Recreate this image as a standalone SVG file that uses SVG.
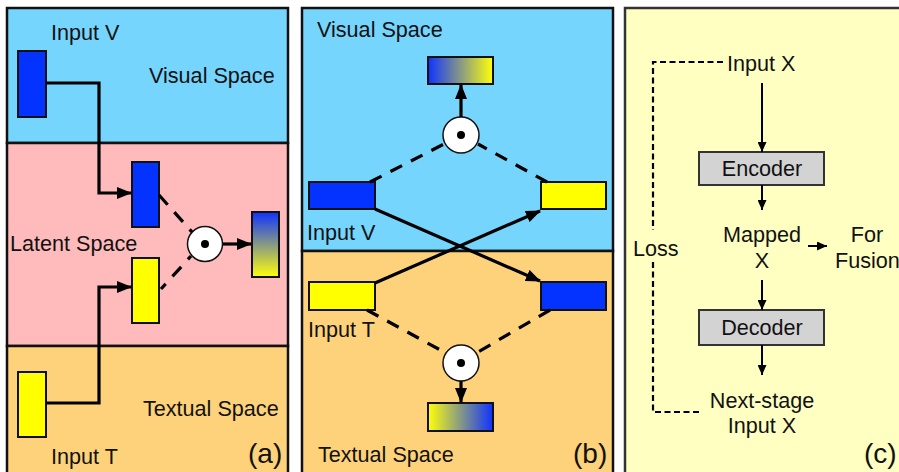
<svg xmlns="http://www.w3.org/2000/svg" width="899" height="472" viewBox="0 0 899 472">
  <style>
    text { font-family: "Liberation Sans", Arial, sans-serif; font-size: 21.6px; fill: #111; }
    .big { font-size: 28px; }
    .mid { text-anchor: middle; }
    .frame { stroke: #111; stroke-width: 2.5; }
    .blk { stroke: #111; stroke-width: 2; }
    .blue { fill: #0433FF; }
    .yel { fill: #FFFF00; }
    .conn { fill: none; stroke: #000; stroke-width: 3.2; }
    .dash { fill: none; stroke: #000; stroke-width: 3.2; stroke-dasharray: 13 10; }
    .thin { fill: none; stroke: #000; stroke-width: 2; }
    .thindash { fill: none; stroke: #000; stroke-width: 2.2; stroke-dasharray: 6 3.5; }
    .odot { fill: #fff; stroke: #111; stroke-width: 1.5; }
  </style>
  <defs>
    <marker id="ah" markerUnits="userSpaceOnUse" markerWidth="15" markerHeight="12" refX="14" refY="6" orient="auto">
      <path d="M0,0 L15,6 L0,12 z" fill="#000"/>
    </marker>
    <marker id="ahs" markerUnits="userSpaceOnUse" markerWidth="10" markerHeight="9" refX="10" refY="4.5" orient="auto">
      <path d="M0,0 L10,4.5 L0,9 z" fill="#000"/>
    </marker>
    <linearGradient id="gV" x1="0" y1="0" x2="0" y2="1">
      <stop offset="0" stop-color="#0F33FF"/>
      <stop offset="1" stop-color="#FFFF0A"/>
    </linearGradient>
    <linearGradient id="gH" x1="0" y1="0" x2="1" y2="0">
      <stop offset="0" stop-color="#0F33FF"/>
      <stop offset="1" stop-color="#FFFF0A"/>
    </linearGradient>
    <linearGradient id="gHr" x1="0" y1="0" x2="1" y2="0">
      <stop offset="0" stop-color="#FFFF0A"/>
      <stop offset="1" stop-color="#0F33FF"/>
    </linearGradient>
  </defs>

  <rect width="899" height="472" fill="#fff"/>

  <!-- panel (a): three stacked spaces -->
  <g id="panel-a">
    <rect x="7" y="8" width="281" height="135" fill="#75D5FD" class="frame"/>
    <rect x="7" y="143" width="281" height="203" fill="#FFBBBB" class="frame"/>
    <rect x="7" y="346" width="281" height="130" fill="#FED27A" class="frame"/>
    <text x="51" y="40">Input V</text>
    <text x="149" y="83">Visual Space</text>
    <text x="10" y="251">Latent Space</text>
    <text x="143" y="416">Textual Space</text>
    <text x="51" y="464">Input T</text>
    <text x="248" y="463" class="big">(a)</text>
  </g>
  <g id="a-input-v"><rect x="18" y="51" width="28" height="66" class="blue blk"/></g>
  <g id="a-input-t"><rect x="18" y="372" width="28" height="65" class="yel blk"/></g>
  <g id="a-latent-v"><rect x="132" y="162" width="27" height="65" class="blue blk"/></g>
  <g id="a-latent-t"><rect x="132" y="258" width="27" height="65" class="yel blk"/></g>
  <g id="a-fuse">
    <circle cx="205" cy="244" r="17.5" class="odot"/>
    <circle cx="205" cy="244" r="4" fill="#000"/>
  </g>
  <g id="a-out"><rect x="252" y="212" width="27" height="65" fill="url(#gV)" class="blk"/></g>

  <!-- panel (b): visual over textual -->
  <g id="panel-b">
    <rect x="302" y="8" width="311" height="243" fill="#75D5FD" class="frame"/>
    <rect x="302" y="251" width="311" height="225" fill="#FED27A" class="frame"/>
    <text x="317" y="37">Visual Space</text>
    <text x="307" y="240">Input V</text>
    <text x="308" y="337">Input T</text>
    <text x="318" y="462">Textual Space</text>
    <text x="573" y="463" class="big">(b)</text>
  </g>
  <g id="b-input-v"><rect x="309" y="182" width="66" height="27" class="blue blk"/></g>
  <g id="b-vis-t"><rect x="541" y="182" width="65" height="27" class="yel blk"/></g>
  <g id="b-input-t"><rect x="309" y="282" width="66" height="28" class="yel blk"/></g>
  <g id="b-txt-v"><rect x="541" y="282" width="65" height="28" class="blue blk"/></g>
  <g id="b-fuse-top">
    <circle cx="461" cy="135" r="18" class="odot"/>
    <circle cx="461" cy="135" r="4" fill="#000"/>
  </g>
  <g id="b-fuse-bot">
    <circle cx="461" cy="363" r="18" class="odot"/>
    <circle cx="461" cy="363" r="4" fill="#000"/>
  </g>
  <g id="b-out-top"><rect x="428" y="57" width="65" height="27" fill="url(#gH)" class="blk"/></g>
  <g id="b-out-bot"><rect x="428" y="403" width="65" height="28" fill="url(#gHr)" class="blk"/></g>

  <!-- panel (c): encoder / decoder -->
  <g id="panel-c">
    <rect x="625" y="8" width="280" height="470" fill="#FFFFC2" stroke="#333" stroke-width="2.5"/>
    <text x="727" y="71">Input X</text>
    <text x="633" y="256">Loss</text>
    <text x="762" y="242" class="mid">Mapped</text>
    <text x="762" y="268" class="mid">X</text>
    <text x="867" y="242" class="mid">For</text>
    <text x="835" y="268">Fusion</text>
    <text x="762" y="408" class="mid">Next-stage</text>
    <text x="762" y="433" class="mid">Input X</text>
    <text x="864" y="463" class="big">(c)</text>
  </g>
  <g id="c-encoder">
    <rect x="699" y="152" width="125" height="33" fill="#D3D3D3" stroke="#333" stroke-width="2"/>
    <text x="762" y="176" class="mid">Encoder</text>
  </g>
  <g id="c-decoder">
    <rect x="699" y="310" width="125" height="35" fill="#D3D3D3" stroke="#333" stroke-width="2"/>
    <text x="762" y="335" class="mid">Decoder</text>
  </g>

  <g id="connectors">
    <!-- panel (a) -->
    <path d="M46,83 H99 V193 H131" class="conn" marker-end="url(#ah)"/>
    <path d="M46,403 H99 V287 H131" class="conn" marker-end="url(#ah)"/>
    <path d="M159,195 L192,232" class="dash"/>
    <path d="M161,289 L191,256" class="dash" stroke-dashoffset="6"/>
    <path d="M223,244 H251" class="conn" marker-end="url(#ah)"/>
    <!-- panel (b) -->
    <path d="M370,182 L444,144" class="dash"/>
    <path d="M478,144 L547,182" class="dash" stroke-dashoffset="3"/>
    <path d="M461,117 V85" class="conn" marker-end="url(#ah)"/>
    <path d="M375,209 L540,281" class="conn" marker-end="url(#ah)"/>
    <path d="M375,283 L540,211" class="conn" marker-end="url(#ah)"/>
    <path d="M367,310 L444,352" class="dash"/>
    <path d="M550,310 L478,352" class="dash"/>
    <path d="M461,381 V402" class="conn" marker-end="url(#ah)"/>
    <!-- panel (c) -->
    <path d="M723,62 H653 V230" class="thindash"/>
    <path d="M653,262 V412 H702" class="thindash"/>
    <path d="M762,83 V152" class="thin" marker-end="url(#ahs)"/>
    <path d="M762,185 V210" class="thin" marker-end="url(#ahs)"/>
    <path d="M808,246 H827" class="thin" marker-end="url(#ahs)"/>
    <path d="M762,280 V310" class="thin" marker-end="url(#ahs)"/>
    <path d="M762,345 V375" class="thin" marker-end="url(#ahs)"/>
  </g>
</svg>
